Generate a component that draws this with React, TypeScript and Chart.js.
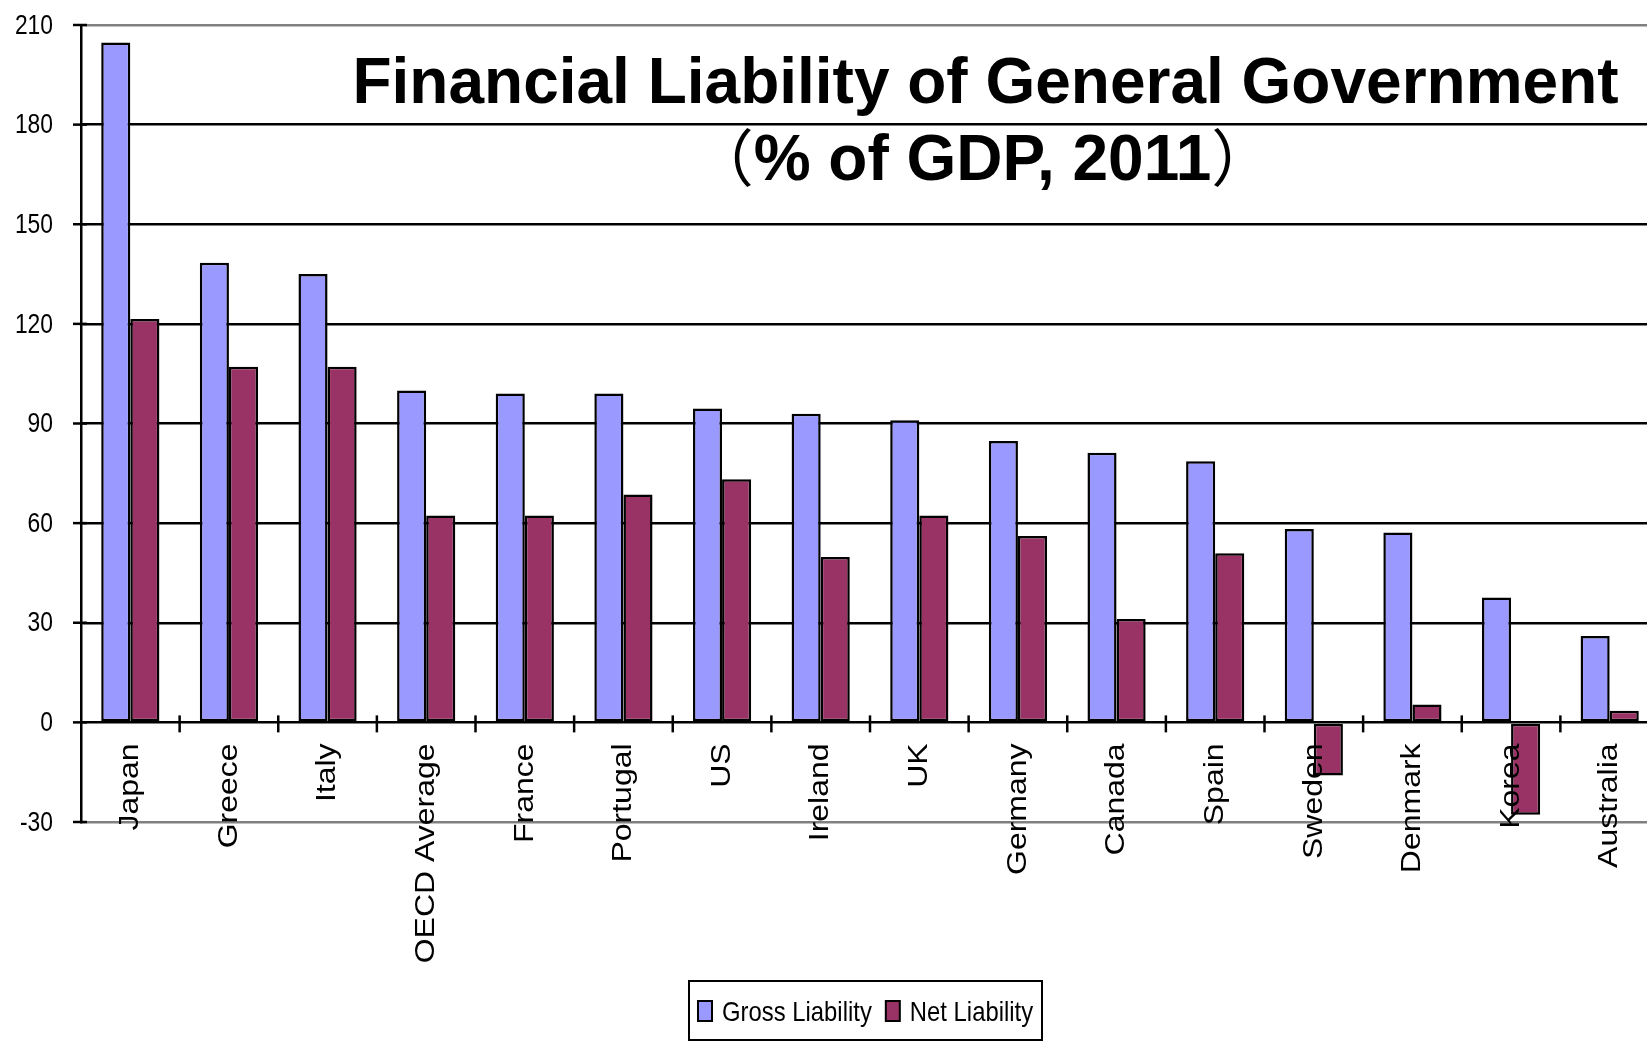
import React, { useEffect, useRef } from "react";
import { Chart, registerables } from "chart.js";

Chart.register(...registerables);

const categories = [
  "Japan", "Greece", "Italy", "OECD Average", "France", "Portugal", "US", "Ireland",
  "UK", "Germany", "Canada", "Spain", "Sweden", "Denmark", "Korea", "Australia",
];
const grossLiability = [204.7, 138.4, 135.0, 99.9, 99.0, 99.0, 94.5, 92.9, 91.0, 84.7, 81.2, 78.6, 58.2, 57.2, 37.6, 26.0];
const netLiability = [121.5, 107.1, 107.1, 62.3, 62.3, 68.6, 73.2, 49.8, 62.3, 56.1, 31.1, 50.9, -16.0, 5.4, -27.8, 3.5];
const seriesNames = ["Gross Liability", "Net Liability"];
const yTicks = [-30, 0, 30, 60, 90, 120, 150, 180, 210];
const titleLine1 = "Financial Liability of General Government";
const titleLine2 = ["（", "% of GDP, 2011", "）"];

const GROSS_COLOR = "#9999FF";
const NET_COLOR = "#993366";
const SANS = '"Liberation Sans", Arial, Helvetica, sans-serif';
const CJK = '"Noto Sans CJK JP", "Noto Sans CJK SC", sans-serif';

const decorPlugin = {
  id: "decor",
  afterDraw(chart: any) {
    const ctx = chart.ctx as CanvasRenderingContext2D;
    const x = chart.scales.x;
    const y = chart.scales.y;
    const area = chart.chartArea;
    const zeroY = y.getPixelForValue(0);

    ctx.save();
    ctx.strokeStyle = "#000";
    ctx.lineWidth = 2.5;
    // y-axis tick marks crossing the axis
    for (const v of yTicks) {
      const py = y.getPixelForValue(v);
      ctx.beginPath();
      ctx.moveTo(area.left - 8, py);
      ctx.lineTo(area.left + 6, py);
      ctx.stroke();
    }
    // category separator ticks crossing the zero line
    for (let i = 0; i < categories.length - 1; i++) {
      const px = (x.getPixelForValue(i) + x.getPixelForValue(i + 1)) / 2;
      ctx.beginPath();
      ctx.moveTo(px, zeroY - 7);
      ctx.lineTo(px, zeroY + 10);
      ctx.stroke();
    }

    ctx.fillStyle = "#000";

    // y tick labels (condensed)
    ctx.font = `28px ${SANS}`;
    ctx.textAlign = "right";
    ctx.textBaseline = "middle";
    for (const v of yTicks) {
      const py = y.getPixelForValue(v);
      ctx.save();
      ctx.translate(area.left - 28, py + 1);
      ctx.scale(0.815, 1);
      ctx.fillText(String(v), 0, 0);
      ctx.restore();
    }

    // category labels (rotated, reading upward)
    ctx.font = `32px ${SANS}`;
    ctx.textAlign = "right";
    ctx.textBaseline = "middle";
    categories.forEach((c, i) => {
      const px = x.getPixelForValue(i);
      ctx.save();
      ctx.translate(px, zeroY + 21);
      ctx.scale(0.88, 1);
      ctx.rotate(-Math.PI / 2);
      ctx.fillText(c, 0, 0);
      ctx.restore();
    });

    // title
    ctx.textBaseline = "alphabetic";
    ctx.textAlign = "left";
    ctx.font = `bold 64px ${SANS}`;
    const w1 = ctx.measureText(titleLine1).width;
    ctx.fillText(titleLine1, 985.5 - w1 / 2, 103);

    const fontParen = `62px ${CJK}`;
    const fontMid = `bold 64px ${SANS}`;
    ctx.font = fontParen;
    const wl = ctx.measureText(titleLine2[0]).width;
    const wr = ctx.measureText(titleLine2[2]).width;
    ctx.font = fontMid;
    const wm = ctx.measureText(titleLine2[1]).width;
    let tx = 982.5 - (wl + wm + wr) / 2;
    ctx.font = fontParen;
    ctx.fillText(titleLine2[0], tx, 182);
    tx += wl;
    ctx.font = fontMid;
    ctx.fillText(titleLine2[1], tx, 180);
    tx += wm;
    ctx.font = fontParen;
    ctx.fillText(titleLine2[2], tx, 182);

    // legend (condensed text)
    ctx.lineWidth = 2;
    ctx.strokeStyle = "#000";
    ctx.strokeRect(689, 981, 353, 59);
    ctx.font = `28px ${SANS}`;
    const sx = 0.852;
    let lx = 698;
    chart.data.datasets.forEach((ds: any) => {
      ctx.fillStyle = ds.backgroundColor;
      ctx.fillRect(lx, 1001, 14, 20);
      ctx.lineWidth = 2;
      ctx.strokeRect(lx, 1001, 14, 20);
      ctx.fillStyle = "#000";
      ctx.save();
      ctx.translate(lx + 24, 1021);
      ctx.scale(sx, 1);
      ctx.fillText(ds.label, 0, 0);
      ctx.restore();
      lx += 24 + ctx.measureText(ds.label).width * sx + 14;
    });
    ctx.restore();
  },
};

export default function App() {
  const ref = useRef<HTMLCanvasElement | null>(null);

  useEffect(() => {
    if (!ref.current) return;
    document.body.style.margin = "0";
    document.body.style.overflow = "hidden";
    const chart = new Chart(ref.current, {
      type: "bar",
      data: {
        labels: categories,
        datasets: [
          {
            label: seriesNames[0],
            data: grossLiability,
            backgroundColor: GROSS_COLOR,
            borderColor: "#000",
            borderWidth: 2.5,
            borderSkipped: false,
          },
          {
            label: seriesNames[1],
            data: netLiability,
            backgroundColor: NET_COLOR,
            borderColor: "#000",
            borderWidth: 2.5,
            borderSkipped: false,
          },
        ],
      },
      options: {
        responsive: false,
        animation: false,
        devicePixelRatio: 1,
        layout: { padding: { top: 25, bottom: 220, left: 0, right: 1 } },
        datasets: { bar: { categoryPercentage: 0.59, barPercentage: 1.0 } },
        plugins: {
          legend: { display: false },
          title: { display: false },
          tooltip: { enabled: false },
        },
        scales: {
          x: {
            type: "category",
            display: false,
            offset: true,
          },
          y: {
            min: -30,
            max: 210,
            afterFit: (s: any) => {
              s.width = 81;
            },
            afterBuildTicks: (s: any) => {
              s.ticks = yTicks.map((v) => ({ value: v }));
            },
            border: { display: true, color: "#000", width: 2.5 },
            grid: {
              drawTicks: false,
              lineWidth: 2.5,
              color: (c: any) =>
                c.tick && (c.tick.value === 210 || c.tick.value === -30) ? "#808080" : "#000",
            },
            ticks: { display: false },
          },
        },
      },
      plugins: [decorPlugin],
    });
    return () => chart.destroy();
  }, []);

  return (
    <div
      style={{
        position: "fixed",
        left: 0,
        top: 0,
        width: 1647,
        height: 1042,
        overflow: "hidden",
        background: "#fff",
      }}
    >
      <canvas ref={ref} width={1660} height={1042} style={{ display: "block" }} />
    </div>
  );
}
